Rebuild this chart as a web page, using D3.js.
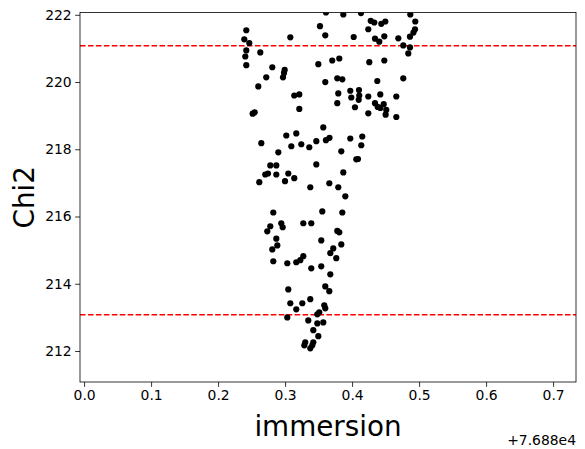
<!DOCTYPE html>
<html>
<head>
<meta charset="utf-8">
<script src="https://cdn.jsdelivr.net/npm/d3@7"></script>
<style>
  html, body { margin: 0; padding: 0; background: #fff; }
  svg { display: block; font-family: "DejaVu Sans", sans-serif; }
</style>
</head>
<body>
<svg id="chart" width="585" height="449"></svg>
<script>
// immersion values (offset +7.688e4)
const immersion = [
  0.2421,0.2391,0.2466,0.2421,0.2406,0.2421,0.2630,0.2809,0.2719,0.2600,
  0.2994,0.2984,0.2969,0.3137,0.3212,0.3212,0.2516,0.2546,0.3078,0.3496,
  0.3521,0.3600,0.3600,0.3610,0.3869,0.4133,0.4869,0.4278,0.4331,0.4436,
  0.4496,0.4943,0.4242,0.4939,0.4916,0.4024,0.4342,0.4406,0.4481,0.4690,
  0.4864,0.4764,0.4864,0.4839,0.3704,0.3809,0.4257,0.4481,0.3779,0.3854,
  0.4376,0.4764,0.3973,0.4103,0.3794,0.3988,0.4107,0.4099,0.4242,0.4421,
  0.4660,0.3779,0.4043,0.4342,0.4382,0.4421,0.4472,0.4510,0.4501,0.4242,
  0.4660,0.3570,0.3018,0.3167,0.2645,0.3093,0.3242,0.3361,0.3466,0.3610,
  0.2899,0.2779,0.2869,0.3466,0.2704,0.2745,0.2869,0.3048,0.2615,0.2999,
  0.3137,0.3376,0.2824,0.3555,0.2943,0.2779,0.2964,0.2734,0.3272,0.3391,
  0.2869,0.3540,0.3663,0.3973,0.4152,0.4137,0.3839,0.4063,0.4088,0.3869,
  0.3660,0.3794,0.3899,0.3854,0.3779,0.3809,0.2884,0.2809,0.2824,0.3033,
  0.3167,0.3227,0.3272,0.3391,0.3540,0.3048,0.3600,0.3078,0.3257,0.3376,
  0.3167,0.3585,0.3600,0.3510,0.3481,0.3033,0.3346,0.3481,0.3570,0.3421,
  0.3496,0.3301,0.3287,0.3421,0.3406,0.3376,0.3839,0.3719,0.3675,0.3764,
  0.3675,0.3660
];
const chi2 = [
  221.54,221.27,221.16,220.94,220.76,220.50,220.88,220.44,220.14,219.87,
  220.36,220.27,220.14,219.60,219.63,219.20,219.06,219.10,221.33,220.53,
  221.66,221.39,220.00,222.07,222.01,222.05,222.01,221.82,221.77,221.73,
  221.80,221.80,221.57,221.57,221.47,221.34,221.29,221.20,221.36,221.30,
  221.35,221.09,221.03,220.85,220.64,220.70,220.59,220.64,220.11,220.08,
  220.03,220.11,219.74,219.76,219.66,219.54,219.60,219.47,219.57,219.63,
  219.57,219.37,219.25,219.37,219.26,219.23,219.34,219.17,219.03,219.07,
  218.96,218.65,218.41,218.47,218.18,218.09,218.15,218.06,218.24,218.27,
  217.91,217.52,217.52,217.55,217.25,217.28,217.25,217.28,217.02,217.05,
  217.14,216.87,216.12,216.15,215.80,215.71,215.68,215.56,215.80,215.80,
  215.34,215.29,218.34,218.32,218.38,218.12,217.94,217.70,217.71,217.31,
  216.99,216.87,216.60,216.12,215.57,215.53,215.14,215.02,214.67,214.61,
  214.64,214.70,214.82,214.46,214.52,213.83,213.92,213.42,213.42,213.54,
  213.24,213.36,213.27,213.15,213.09,213.00,212.91,212.82,212.85,212.62,
  212.44,212.26,212.17,212.26,212.17,212.08,215.17,215.05,214.91,214.76,
  214.28,213.78
];
const thresholds = [221.08, 213.08];
const xTicks = [0.0, 0.1, 0.2, 0.3, 0.4, 0.5, 0.6, 0.7];
const yTicks = [212, 214, 216, 218, 220, 222];
const xDomain = [-0.0061, 0.7342];
const yDomain = [211.078, 222.071];
const xOffsetLabel = "+7.688e4";
const xTitle = "immersion";
const yTitle = "Chi2";

const svg = d3.select("#chart");
const m = { left: 80, right: 576, top: 12.4, bottom: 382 };

const x = d3.scaleLinear().domain(xDomain).range([m.left, m.right]);
const y = d3.scaleLinear().domain(yDomain).range([m.bottom, m.top]);

svg.append("defs").append("clipPath").attr("id", "clip")
  .append("rect").attr("x", m.left).attr("y", m.top)
  .attr("width", m.right - m.left).attr("height", m.bottom - m.top);

const plot = svg.append("g").attr("clip-path", "url(#clip)");

plot.selectAll("line.thr").data(thresholds).enter().append("line")
  .attr("class", "thr")
  .attr("x1", m.left).attr("x2", m.right)
  .attr("y1", d => y(d)).attr("y2", d => y(d))
  .attr("stroke", "#ff0000").attr("stroke-width", 1.5)
  .attr("stroke-dasharray", "5.55,2.4");

plot.selectAll("circle").data(immersion).enter().append("circle")
  .attr("cx", d => x(d))
  .attr("cy", (d, i) => y(chi2[i]))
  .attr("r", 3.1)
  .attr("fill", "#000");

// axes
const xAxis = d3.axisBottom(x).tickValues(xTicks).tickFormat(d3.format(".1f"))
  .tickSize(4.86).tickPadding(3.5);
const yAxis = d3.axisLeft(y).tickValues(yTicks).tickFormat(d3.format("d"))
  .tickSize(4.86).tickPadding(3.5);

const gx = svg.append("g").attr("transform", `translate(0,${m.bottom})`).call(xAxis);
const gy = svg.append("g").attr("transform", `translate(${m.left},0)`).call(yAxis);
[gx, gy].forEach(g => {
  g.select(".domain").remove();
  g.selectAll(".tick line").attr("stroke", "#000").attr("stroke-width", 0.8);
  g.selectAll(".tick text").attr("fill", "#000").attr("font-size", "13.9px")
    .attr("font-family", "DejaVu Sans, sans-serif");
});

svg.append("rect").attr("x", m.left).attr("y", m.top)
  .attr("width", m.right - m.left).attr("height", m.bottom - m.top)
  .attr("fill", "none").attr("stroke", "#000").attr("stroke-width", 0.8);

svg.append("text").attr("x", m.right).attr("y", 445)
  .attr("text-anchor", "end").attr("font-size", "13.9px").attr("fill", "#000")
  .text(xOffsetLabel);

svg.append("text").attr("x", (m.left + m.right) / 2).attr("y", 436)
  .attr("text-anchor", "middle").attr("font-size", "27.8px").attr("fill", "#000")
  .text(xTitle);

svg.append("text")
  .attr("transform", `translate(34,${(m.top + m.bottom) / 2}) rotate(-90)`)
  .attr("text-anchor", "middle").attr("font-size", "27.8px").attr("fill", "#000")
  .text(yTitle);
</script>
</body>
</html>
